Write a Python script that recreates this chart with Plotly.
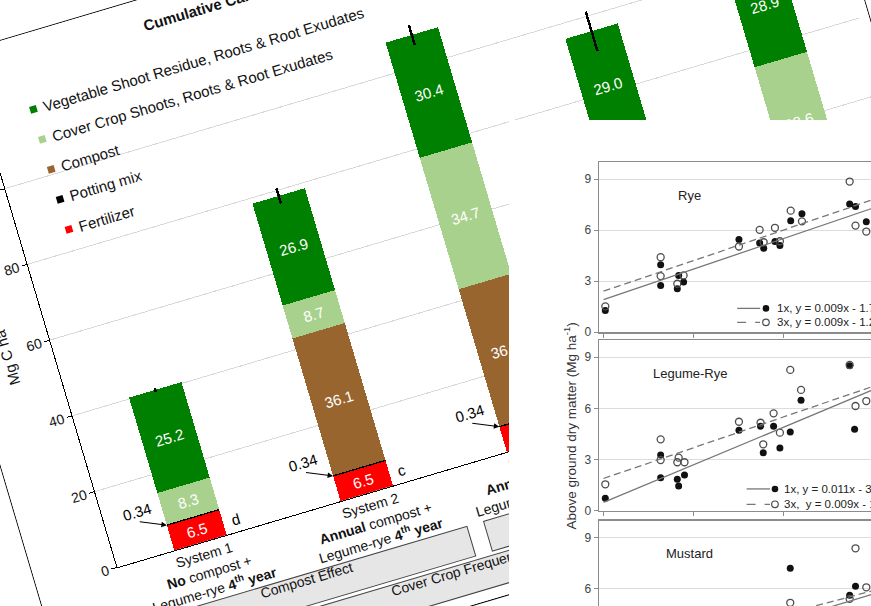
import math
import plotly.graph_objects as go

# ---------------- Cumulative carbon inputs (Mg C ha-1) ----------------
systems = ["System 1", "System 2", "System 3", "System 4", "System 5"]
compost_text = ["<b>No</b> compost +", "<b>Annual</b> compost +", "<b>Annual</b> compost +",
                "<b>Annual</b> compost +", "<b>Annual</b> compost +"]
cover_text = ["Legume-rye <b>4<sup>th</sup> year</b>", "Legume-rye <b>4<sup>th</sup> year</b>",
              "Legume-rye <b>every year</b>", "Rye <b>every year</b>", "Mustard <b>every year</b>"]
fertilizer = [6.5, 6.5, 6.5, 6.5, 6.5]
potting_mix = [0.34, 0.34, 0.34, 0.34, 0.34]
compost = [0.0, 36.1, 36.1, 36.1, 36.1]
cover_crop = [8.3, 8.7, 34.7, 24.1, 32.6]
vegetable = [25.2, 26.9, 30.4, 29.0, 28.9]
total_error = [0.5, 2.0, 2.7, 5.2, 3.0]
letters = ["d", "c", "", "", ""]
effects = [("Compost Effect", -0.45, 1.5, 0),
           ("Cover Crop Frequency Effect", 0.55, 2.45, 1),
           ("Cover Crop Type Effect", 1.6, 4.45, 0)]

# ---------------- Cover crop biomass vs. thermal time ----------------
rye_1x_x = [404, 527, 527, 564, 567, 578, 701, 747, 756, 781, 792, 816, 841, 947, 960, 984]
rye_1x_y = [1.27, 3.95, 2.74, 2.55, 3.33, 2.94, 5.44, 5.24, 4.93, 5.32, 5.09, 6.55, 6.95, 7.53, 7.38, 6.48]
rye_3x_x = [404, 527, 527, 564, 578, 701, 747, 756, 781, 792, 816, 841, 947, 960, 984]
rye_3x_y = [1.51, 4.40, 3.29, 2.84, 3.33, 5.03, 6.01, 5.28, 6.13, 5.34, 7.14, 6.51, 8.85, 6.26, 5.91]
legume_1x_x = [404, 527, 527, 564, 567, 580, 701, 749, 755, 778, 792, 815, 839, 947, 958]
legume_1x_y = [0.74, 3.27, 1.94, 1.85, 1.46, 2.10, 4.72, 4.96, 3.40, 4.96, 3.69, 4.62, 6.47, 8.50, 4.78]
legume_3x_x = [404, 527, 527, 564, 567, 580, 701, 749, 755, 778, 792, 815, 839, 947, 960, 984]
legume_3x_y = [1.56, 4.19, 2.98, 2.85, 3.12, 2.85, 5.22, 5.16, 3.90, 5.71, 4.58, 8.25, 7.08, 8.54, 6.14, 6.43]
mustard_1x_x = [815, 947, 960]
mustard_1x_y = [7.21, 5.62, 6.15]
mustard_3x_x = [815, 947, 960, 984]
mustard_3x_y = [5.18, 5.41, 8.38, 6.09]
# regression fits (slope, intercept) for 1x and 3x cover crop frequency
rye_fits = [(0.009, -1.7), (0.009, -1.2)]
legume_fits = [(0.011, -3.9), (0.009, -1.7)]
mustard_fits = [(0.008, -2.3), (0.007, -1.1)]
fit_span = [400, 1050]

FONT = "Liberation Sans, Arial, sans-serif"
DARK_GREEN, LIGHT_GREEN, BROWN, RED, BLACK = "#008000", "#A9D18E", "#98652F", "#FF0000", "#000000"

# ---------------- bar chart geometry ----------------
W, H = 960, 675
M_L, M_R, M_T, M_B = 83, 10, 64, 137
PLOT_W = W - M_L - M_R
PLOT_H = H - M_T - M_B
Y_MAX = 120
BAR_W = 0.315
TILT = 16.5                    # counter-clockwise tilt of the bar chart page
AXIS_ORIGIN = (117, 567)       # screen point where the bar chart axes meet
INSET_BOX = (509, 120, 600, 610)

x_pos = list(range(len(systems)))
tick_text = [f"{s}<br>{c}<br>{k}" for s, c, k in zip(systems, compost_text, cover_text)]

fig = go.Figure()
stack = [
    ("Fertilizer", fertilizer, RED, True),
    ("Potting mix", potting_mix, BLACK, False),
    ("Compost", compost, BROWN, True),
    ("Cover Crop Shoots, Roots & Root Exudates", cover_crop, LIGHT_GREEN, True),
    ("Vegetable Shoot Residue, Roots & Root Exudates", vegetable, DARK_GREEN, True),
]
for name, vals, color, show_val in stack:
    extra = {}
    if vals is vegetable:
        extra["error_y"] = dict(type="data", array=total_error, visible=True,
                                color=BLACK, thickness=2.5, width=0)
    if show_val:
        extra["text"] = [f"{v:.1f}" if v > 0 else "" for v in vals]
        extra["textposition"] = "inside"
        extra["insidetextanchor"] = "middle"
        extra["textangle"] = 0
        extra["textfont"] = dict(color="white", size=15, family=FONT)
    fig.add_trace(go.Bar(
        x=x_pos, y=vals, name=name, width=BAR_W,
        marker=dict(color=color, line=dict(width=0)),
        hoverinfo="skip", showlegend=False, **extra))

annotations = []
shapes = []
for i in x_pos:
    # potting-mix callout: label sits above the arrow tail, arrow points at the thin slice
    annotations.append(dict(x=i - BAR_W / 2, y=fertilizer[i] + potting_mix[i] / 2,
                            ax=-25, ay=-11, xanchor="center", yanchor="bottom",
                            text=f"{potting_mix[i]:.2f}", showarrow=True, arrowhead=2,
                            arrowsize=1.1, arrowwidth=1, arrowcolor=BLACK, standoff=0,
                            font=dict(size=15, color=BLACK)))
    if letters[i]:
        annotations.append(dict(x=i, y=fertilizer[i] / 2, xshift=40, text=letters[i],
                                showarrow=False, font=dict(size=15, color=BLACK)))

# legend drawn inside the plot area, top row first
legend_rows = list(reversed(stack))
LEG_X, LEG_Y0, LEG_STEP = -0.214, 117.2, 7.92
for r, (name, _, color, _) in enumerate(legend_rows):
    yy = LEG_Y0 - r * LEG_STEP
    shapes.append(dict(type="rect", xref="x", yref="y", xsizemode="pixel", ysizemode="pixel",
                       xanchor=LEG_X, yanchor=yy, x0=-3.5, x1=3.5, y0=-3.5, y1=3.5,
                       fillcolor=color, line=dict(width=0)))
    annotations.append(dict(x=LEG_X, y=yy, xshift=8, xanchor="left", text=name, showarrow=False,
                            font=dict(size=15, color="#111")))

# effect group boxes under the category labels
ROW_V = [(60, 91), (95, 126)]
for label, x0, x1, row in effects:
    v0, v1 = ROW_V[row]
    shapes.append(dict(type="rect", xref="x", yref="paper", x0=x0, x1=x1,
                       y0=-v0 / PLOT_H, y1=-v1 / PLOT_H, fillcolor="#E6E6E6",
                       line=dict(color="#444", width=1), layer="below"))
    annotations.append(dict(x=(x0 + x1) / 2, xref="x", yref="paper", y=-(v0 + v1) / 2 / PLOT_H,
                            xanchor="center", text=label, showarrow=False,
                            font=dict(size=14, color="#111")))

annotations.append(dict(xref="paper", yref="paper", x=177 / PLOT_W, y=1 + 38 / PLOT_H,
                        xanchor="left", yanchor="middle", text="<b>Cumulative Carbon Inputs</b>",
                        showarrow=False, font=dict(size=15, color="#111")))
annotations.append(dict(xref="paper", yref="paper", x=-48 / PLOT_W, y=0.5, textangle=-90,
                        xanchor="center", yanchor="middle",
                        text="Mg C ha<sup>-1</sup>", showarrow=False, font=dict(size=15, color="#111")))

fig.update_layout(
    template="none", barmode="stack", width=W, height=H,
    margin=dict(l=M_L, r=M_R, t=M_T, b=M_B, autoexpand=False),
    paper_bgcolor="white", plot_bgcolor="white", showlegend=False,
    font=dict(family=FONT, color="#111"),
    annotations=annotations, shapes=shapes,
    xaxis=dict(range=[-0.5, len(systems) - 0.5], tickvals=x_pos, ticktext=tick_text,
               tickfont=dict(size=14, color="#111"), showline=True, linecolor=BLACK, linewidth=1,
               ticks="", showgrid=False, zeroline=False),
    yaxis=dict(range=[0, Y_MAX], tick0=0, dtick=20, showgrid=True, gridcolor="#D9D9D9",
               gridwidth=1, showline=True, linecolor=BLACK, linewidth=1, ticks="outside",
               ticklen=5, tickcolor=BLACK, tickfont=dict(size=14, color="#111"), zeroline=False),
)

# ---------------- biomass panels ----------------
panels = [
    ("Rye", rye_1x_x, rye_1x_y, rye_3x_x, rye_3x_y, rye_fits,
     dict(line=(697, 748), marker=761, text=781, rows=(1.39, 0.57), sep=" ")),
    ("Legume-Rye", legume_1x_x, legume_1x_y, legume_3x_x, legume_3x_y, legume_fits,
     dict(line=(718, 770), marker=781, text=796, rows=(1.29, 0.39), sep="  ")),
    ("Mustard", mustard_1x_x, mustard_1x_y, mustard_3x_x, mustard_3x_y, mustard_fits, None),
]
domains = [(0.6786, 1.0), (0.3403, 0.6635), (0.0, 0.3219)]
X_RANGE = [390, 1390]
FRAME = "#8C8C8C"

fig2 = go.Figure()
ann2, shp2 = [], []
lay2 = {}
for k, (title, fx, fy, ox, oy, fits, leg) in enumerate(panels):
    sx = "" if k == 0 else str(k + 1)
    xa, ya = "x" + sx, "y" + sx
    fig2.add_trace(go.Scatter(x=fx, y=fy, mode="markers", xaxis=xa, yaxis=ya,
                              marker=dict(symbol="circle", size=7, color="#111"), hoverinfo="skip"))
    fig2.add_trace(go.Scatter(x=ox, y=oy, mode="markers", xaxis=xa, yaxis=ya,
                              marker=dict(symbol="circle-open", size=7, color="#4D4D4D",
                                          line=dict(width=1.3)), hoverinfo="skip"))
    for (a, b), dash in zip(fits, ["solid", "7px,4px"]):
        fig2.add_trace(go.Scatter(x=fit_span, y=[a * v + b for v in fit_span], mode="lines",
                                  xaxis=xa, yaxis=ya, line=dict(color="#777", width=1.3, dash=dash),
                                  hoverinfo="skip"))
    lay2["xaxis" + sx] = dict(domain=[0, 1], anchor=ya, range=X_RANGE, tick0=0, dtick=200,
                              showline=True, mirror=True, linecolor=FRAME, linewidth=1.5,
                              ticks="outside", ticklen=4, tickcolor=FRAME, showgrid=False,
                              zeroline=False, showticklabels=(k == len(panels) - 1),
                              tickfont=dict(size=12, color="#444"))
    lay2["yaxis" + sx] = dict(domain=list(domains[k]), anchor=xa, range=[0, 10],
                              tickvals=[0, 3, 6, 9], showline=True, mirror=True, linecolor=FRAME,
                              linewidth=1.5, ticks="outside", ticklen=4, tickcolor=FRAME,
                              showgrid=True, gridcolor="#DCDCDC", zeroline=False,
                              tickfont=dict(size=12, color="#444"))
    ann2.append(dict(xref=xa, yref=ya, x=592, y=8.05, text=title, showarrow=False,
                     font=dict(size=13, color="#222")))
    if leg:
        for (a, b), dash, symbol_fill, yy, tag in zip(
                fits, ["solid", "dash"], ["#111", "rgba(0,0,0,0)"], leg["rows"], ["1x", "3x"]):
            shp2.append(dict(type="line", xref=xa, yref=ya, x0=leg["line"][0], x1=leg["line"][1],
                             y0=yy, y1=yy, line=dict(color="#777", width=1.3, dash=dash)))
            shp2.append(dict(type="circle", xref=xa, yref=ya, xsizemode="pixel", ysizemode="pixel",
                             xanchor=leg["marker"], yanchor=yy, x0=-3.3, x1=3.3, y0=-3.3, y1=3.3,
                             fillcolor=symbol_fill,
                             line=dict(color="#4D4D4D" if tag == "3x" else "#111",
                                       width=1.2 if tag == "3x" else 0)))
            ann2.append(dict(xref=xa, yref=ya, x=leg["text"], y=yy, xanchor="left",
                             text=f"{tag},{leg['sep'] if tag == '3x' else ' '}y = {a:.3f}x - {abs(b):.1f}",
                             showarrow=False, font=dict(size=11.5, color="#222")))

ann2.append(dict(xref="paper", yref="paper", x=-29 / 450, y=0.5, textangle=-90,
                 xanchor="center", yanchor="middle",
                 text="Above ground dry matter (Mg ha<sup>-1</sup>)", showarrow=False,
                 font=dict(size=13.5, color="#333")))
fig2.update_layout(template="none", width=INSET_BOX[2], height=INSET_BOX[3],
                   margin=dict(l=90, r=60, t=42, b=39, autoexpand=False),
                   paper_bgcolor="white", plot_bgcolor="white", showlegend=False,
                   font=dict(family=FONT, color="#333"), annotations=ann2, shapes=shp2, **lay2)

# ---------------- page composition ----------------
a = math.radians(TILT)
corner_v = M_T + PLOT_H
page_left = AXIS_ORIGIN[0] - M_L * math.cos(a) - corner_v * math.sin(a)
page_top = AXIS_ORIGIN[1] + M_L * math.sin(a) - corner_v * math.cos(a)

post = """
var gd = document.getElementById('{plot_id}');
document.documentElement.style.overflow = 'hidden';
document.body.style.margin = '0';
document.body.style.overflow = 'hidden';
document.body.style.background = '#fff';
gd.style.position = 'absolute';
gd.style.left = '__LEFT__px';
gd.style.top = '__TOP__px';
gd.style.transformOrigin = '0 0';
gd.style.transform = 'rotate(-__TILT__deg)';
gd.style.outline = '1.5px solid #000';
var inset = document.createElement('div');
inset.style.cssText = 'position:absolute;left:__IX__px;top:__IY__px;width:__IW__px;height:__IH__px;background:#fff;';
document.body.appendChild(inset);
var spec = __SPEC__;
Plotly.newPlot(inset, spec.data, spec.layout, {displayModeBar: false, staticPlot: true});
"""
post = (post.replace("__LEFT__", f"{page_left:.1f}").replace("__TOP__", f"{page_top:.1f}")
        .replace("__TILT__", str(TILT))
        .replace("__IX__", str(INSET_BOX[0])).replace("__IY__", str(INSET_BOX[1]))
        .replace("__IW__", str(INSET_BOX[2])).replace("__IH__", str(INSET_BOX[3]))
        .replace("__SPEC__", fig2.to_json()))

fig.write_html("out.html", config={"displayModeBar": False, "staticPlot": True}, post_script=post)
